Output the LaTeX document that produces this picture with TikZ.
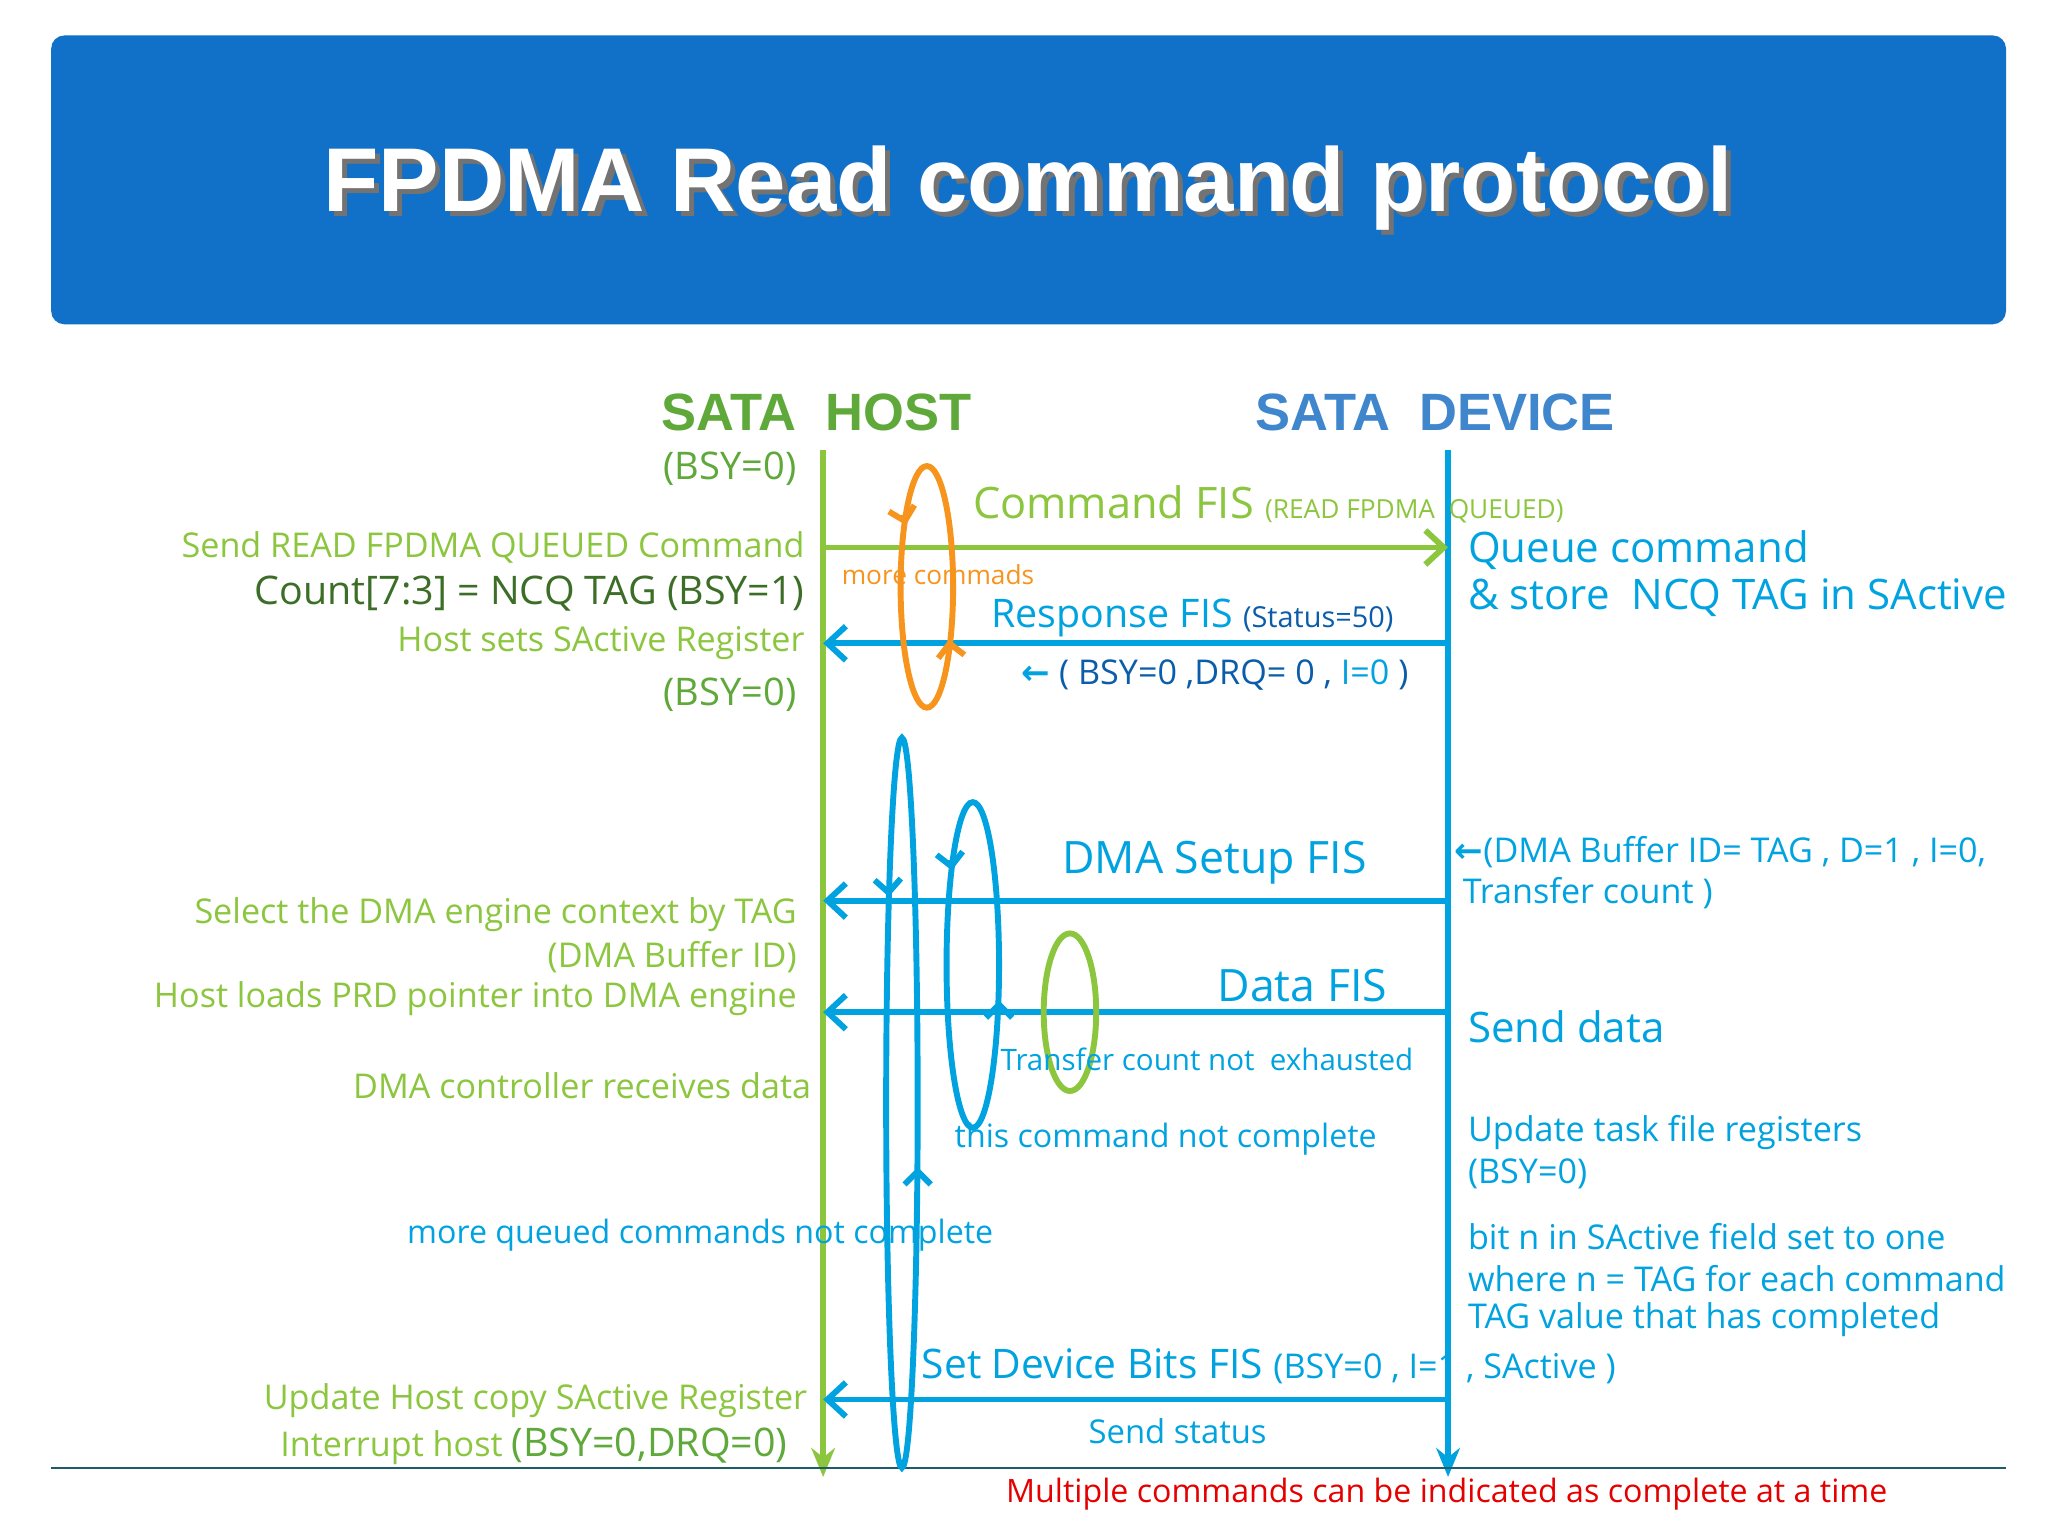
\documentclass[tikz,border=0pt]{standalone}
\usepackage{fontspec}
\setmainfont{Open Sans}
\newfontfamily\titlefont{Liberation Sans}
\newfontfamily\symfont{DejaVu Sans}
\usetikzlibrary{arrows.meta}
\definecolor{lgreen}{HTML}{8CC63F}
\definecolor{mgreen}{HTML}{5FA83A}
\definecolor{dgreen}{HTML}{3C6E28}
\definecolor{cyanb}{HTML}{00A3E0}
\definecolor{dblue}{HTML}{0B5DAA}
\definecolor{steel}{HTML}{3F86CC}
\definecolor{banner}{HTML}{1170C8}
\definecolor{orng}{HTML}{F7941D}
\definecolor{rline}{HTML}{1E5C6C}
\newcommand{\fsz}[1]{\fontsize{#1}{#1}\selectfont}
\newcommand{\larr}{{\symfont\bfseries ←}}
\tikzset{
  txt/.style={inner sep=0pt,font=\fsz{26}},
  big/.style={inner sep=0pt,font=\fsz{32}},
  sml/.style={inner sep=0pt,font=\fsz{20}},
  life/.style={line width=5pt,-{Stealth[length=22pt,width=18pt,open]}},
  msg/.style={line width=4.5pt,-{Straight Barb[length=14pt,width=26pt]}},
  loop/.style={line width=4.5pt},
  barb/.style={line width=4.5pt,-{Straight Barb[length=10pt,width=20pt]}}
}
\begin{document}
\begin{tikzpicture}[x=1pt,y=-1pt]
\useasboundingbox (0,0) rectangle (1560,1170);
\fill[white] (0,0) rectangle (1560,1170);
% banner
\fill[banner,rounded corners=10pt] (39,247) -- (39,27) -- (1528,27) -- (1528,247) -- cycle;
\node[white,font=\titlefont\bfseries\fsz{69}] (title) at (783,145)
  {\rlap{\kern4pt\raisebox{-4pt}{\textcolor{black!55}{FPDMA Read command protocol}}}FPDMA Read command protocol};

% headers and lifelines
\node[mgreen,font=\titlefont\bfseries\fsz{40}] (host) at (622,314) {SATA\ \ HOST};
\node[steel,font=\titlefont\bfseries\fsz{40}] (dev) at (1093,314) {SATA\ \ DEVICE};
\coordinate (h0) at (627,343); \coordinate (h1) at (627,1125);
\coordinate (d0) at (1103,343); \coordinate (d1) at (1103,1125);
\draw[life,lgreen] (h0) -- (h1);
\draw[life,cyanb] (d0) -- (d1);
\draw[rline,line width=1.5pt] (39,1118) -- (1528,1118);

% messages
\coordinate (hc) at (627,417); \coordinate (dc) at (1103,417);
\draw[msg,lgreen] (hc) -- (dc);
\coordinate (hr) at (627,490); \coordinate (dr) at (1103,490);
\draw[msg,cyanb] (dr) -- (hr);
\coordinate (hs) at (627,686); \coordinate (ds) at (1103,686);
\draw[msg,cyanb] (ds) -- (hs);
\coordinate (hd) at (627,771); \coordinate (dd) at (1103,771);
\draw[msg,cyanb] (dd) -- (hd);
\coordinate (hb) at (627,1066); \coordinate (db) at (1103,1066);
\draw[msg,cyanb] (db) -- (hb);

% loops
\draw[loop,orng] (706,447) ellipse[x radius=20,y radius=92];
\draw[barb,orng] (688,392) -- (690,400);
\draw[barb,orng] (724,495) -- (723,487);
\draw[loop,cyanb] (687,840) ellipse[x radius=12,y radius=278];
\draw[barb,cyanb] (676.5,675) -- (677,683);
\draw[barb,cyanb] (699,897) -- (699,889);
\draw[loop,cyanb] (741,735) ellipse[x radius=20,y radius=124];
\draw[barb,cyanb] (724,655) -- (725,663);
\draw[barb,cyanb] (761,770) -- (761,762);
\draw[loop,lgreen] (815,771) ellipse[x radius=20,y radius=60];

% host side
\node[txt,mgreen,anchor=east,font=\fsz{29}] (bsya) at (607,357) {(BSY=0)};
\node[txt,lgreen,anchor=east] (send) at (613,417) {Send READ FPDMA QUEUED Command};
\node[txt,dgreen,anchor=east,font=\fsz{30}] (cnt) at (613,452) {Count[7:3] = NCQ TAG (BSY=1)};
\node[txt,lgreen,anchor=east] (sets) at (613,490) {Host sets SActive Register};
\node[txt,mgreen,anchor=east,font=\fsz{29}] (bsyb) at (607,529) {(BSY=0)};
\node[txt,lgreen,anchor=east] (sel) at (607,697) {Select the DMA engine context by TAG};
\node[txt,lgreen,anchor=east] (bufid) at (607,729) {(DMA Buffer ID)};
\node[txt,lgreen,anchor=east] (prd) at (607,761) {Host loads PRD pointer into DMA engine};
\node[txt,lgreen,anchor=east] (recv) at (618,827) {DMA controller receives data};
\node[txt,cyanb,anchor=west,font=\fsz{24.5}] (moreq) at (310,941) {more queued commands not complete};
\node[txt,lgreen,anchor=east] (upd) at (615,1067) {Update Host copy SActive Register};
\node[txt,lgreen,anchor=east] (intr) at (600,1102) {Interrupt host \textcolor{mgreen}{\fsz{30}(BSY=0,DRQ=0)}};

% middle
\node[big,lgreen,anchor=base west,font=\fsz{33}] (cmdfis) at (741,395) {Command FIS \fsz{20}(READ FPDMA\ \ QUEUED)};
\node[sml,orng,anchor=west] (morec) at (641,438) {more commads};
\node[txt,cyanb,anchor=base west,font=\fsz{30}] (resp) at (755,478) {Response FIS \textcolor{dblue}{\fsz{22}(Status=50)}};
\node[txt,dblue,anchor=west] (bsyc) at (778,514) {\textcolor{cyanb}{\larr} ( BSY=0 ,DRQ= 0 , \textcolor{cyanb}{I=0} )};
\node[big,cyanb,font=\fsz{34}] (dmas) at (925,657) {DMA Setup FIS};
\node[big,cyanb,font=\fsz{34}] (datf) at (992,751) {Data FIS};
\node[sml,cyanb,anchor=west,font=\fsz{22.5}] (tce) at (762,807) {Transfer count not\ \ exhausted};
\node[txt,cyanb,anchor=west,font=\fsz{24.5}] (tcnc) at (727,868) {this command not complete};
\node[txt,cyanb,anchor=base west,font=\fsz{31}] (sdb) at (702,1050) {Set Device Bits FIS \fsz{26}(BSY=0 , I=1 , SActive )};
\node[txt,cyanb,font=\fsz{25}] (sst) at (897,1090) {Send status};

% device side
\node[big,cyanb,anchor=west] (queue) at (1118,419) {Queue command};
\node[big,cyanb,anchor=west] (store) at (1118,455) {\& store\ \ NCQ TAG in SActive};
\node[txt,cyanb,anchor=west] (dmab) at (1108,649) {\larr(DMA Buffer ID= TAG , D=1 , I=0,};
\node[txt,cyanb,anchor=west] (trc) at (1114,680) {Transfer count )};
\node[big,cyanb,anchor=west] (sdata) at (1118,782) {Send data};
\node[txt,cyanb,anchor=west] (utf) at (1118,863) {Update task file registers};
\node[txt,cyanb,anchor=west] (bsyd) at (1118,894) {(BSY=0)};
\node[txt,cyanb,anchor=west] (bitn) at (1118,942) {bit n in SActive field set to one};
\node[txt,cyanb,anchor=west] (where) at (1118,974) {where n = TAG for each command};
\node[txt,cyanb,anchor=west] (tagv) at (1118,1005) {TAG value that has completed};
\node[txt,red!90!black,font=\fsz{24.5}] (multi) at (1102,1138) {Multiple commands can be indicated as complete at a time};
\end{tikzpicture}
\end{document}
